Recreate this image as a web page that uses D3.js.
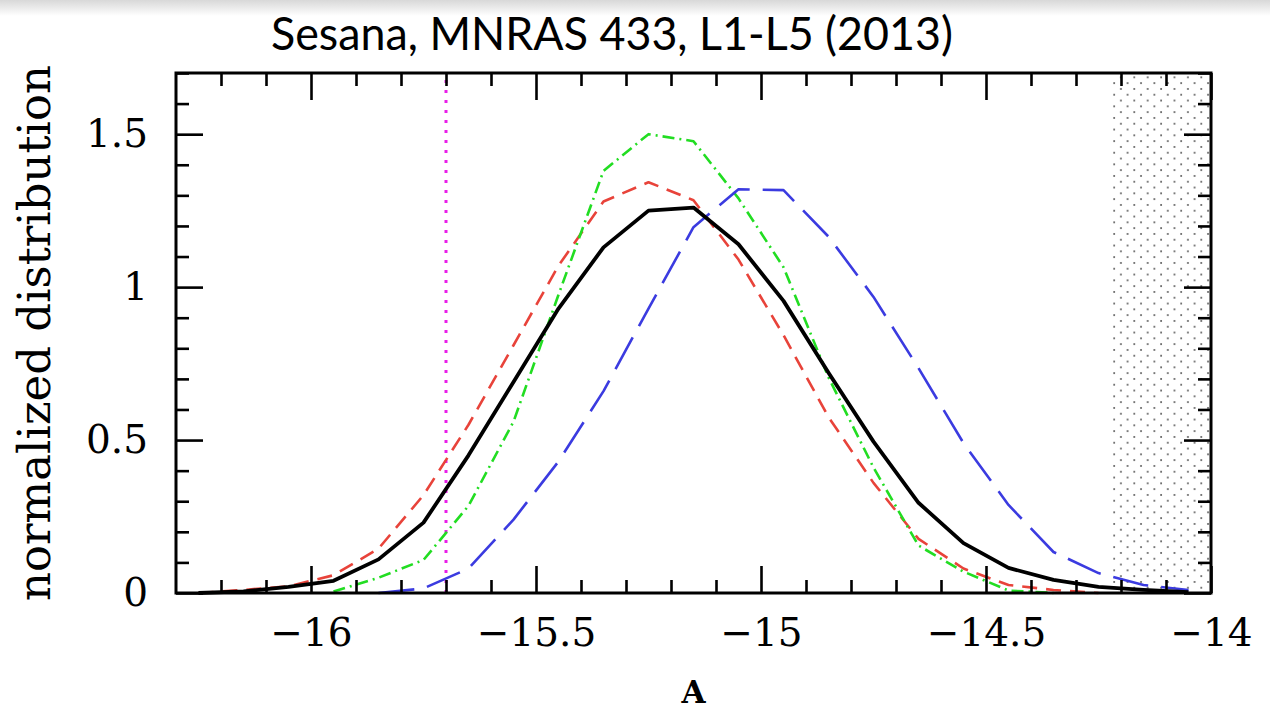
<!DOCTYPE html>
<html>
<head>
<meta charset="utf-8">
<script src="https://cdnjs.cloudflare.com/ajax/libs/d3/7.8.5/d3.min.js"></script>
<style>
  body { margin: 0; background: #fff; }
  svg { display: block; }
</style>
</head>
<body>
<svg id="chart" width="1270" height="713"></svg>
<script>
// bin centres of log amplitude A
const binA = [-16.25, -16.15, -16.05, -15.95, -15.85, -15.75, -15.65, -15.55, -15.45, -15.35, -15.25, -15.15,
              -15.05, -14.95, -14.85, -14.75, -14.65, -14.55, -14.45, -14.35, -14.25, -14.15, -14.05];

// normalized distributions (null = not drawn)
const blackVals = [0, 0.005, 0.02, 0.04, 0.11, 0.23, 0.45, 0.69, 0.93, 1.13, 1.25, 1.26,
                   1.14, 0.955, 0.72, 0.495, 0.295, 0.163, 0.082, 0.043, 0.02, 0.01, 0.003];
const redVals   = [0, 0.01, 0.022, 0.058, 0.145, 0.32, 0.55, 0.81, 1.07, 1.28, 1.343, 1.284,
                   1.09, 0.843, 0.575, 0.36, 0.177, 0.08, 0.026, 0.01, 0, null, null];
const greenVals = [null, null, null, 0.005, 0.05, 0.108, 0.285, 0.56, 0.975, 1.38, 1.50, 1.477,
                   1.29, 1.065, 0.705, 0.41, 0.155, 0.07, 0.008, 0, null, null, null];
const blueVals  = [null, null, null, null, 0, 0.015, 0.08, 0.24, 0.43, 0.66, 0.93, 1.196,
                   1.32, 1.317, 1.165, 0.968, 0.735, 0.49, 0.288, 0.134, 0.065, 0.026, 0.01];

const xMajor = [-16, -15.5, -15, -14.5, -14];
const yMajor = [0, 0.5, 1, 1.5];
const xDomain = [-16.3, -14];
const yDomain = [0, 1.7];
const vLineA = -15.7;      // magenta dotted line
const shadeFromA = -14.22; // excluded (dotted) region

const svg = d3.select("#chart");
const L = 176, R = 1211, T = 73, B = 593;

const x = d3.scaleLinear().domain(xDomain).range([L, R]);
const y = d3.scaleLinear().domain(yDomain).range([B, T]);

// faint textured strip at the very top (slide background)
const defs = svg.append("defs");
const g = defs.append("linearGradient").attr("id", "topfade").attr("x1", 0).attr("x2", 0).attr("y1", 0).attr("y2", 1);
g.append("stop").attr("offset", "0%").attr("stop-color", "#d8d8d8");
g.append("stop").attr("offset", "100%").attr("stop-color", "#ffffff");
svg.append("rect").attr("x", 0).attr("y", 0).attr("width", 1270).attr("height", 16).attr("fill", "url(#topfade)");

// dot pattern for shaded region
const pat = defs.append("pattern").attr("id", "dots").attr("patternUnits", "userSpaceOnUse")
  .attr("width", 13.4).attr("height", 11.6);
pat.append("circle").attr("cx", 2).attr("cy", 2).attr("r", 1).attr("fill", "#555");
pat.append("circle").attr("cx", 8.7).attr("cy", 7.8).attr("r", 1).attr("fill", "#555");

svg.append("rect")
  .attr("x", x(shadeFromA)).attr("y", T)
  .attr("width", x(xDomain[1]) - x(shadeFromA)).attr("height", B - T)
  .attr("fill", "url(#dots)");

// title
svg.append("text")
  .attr("x", 612).attr("y", 50)
  .attr("text-anchor", "middle")
  .attr("font-family", "Lato, 'Open Sans', sans-serif")
  .attr("font-size", 46)
  .attr("textLength", 682).attr("lengthAdjust", "spacingAndGlyphs")
  .text("Sesana, MNRAS 433, L1-L5 (2013)");

// magenta dotted vertical line
svg.append("line")
  .attr("x1", x(vLineA)).attr("x2", x(vLineA))
  .attr("y1", y(0)).attr("y2", y(yDomain[1]))
  .attr("stroke", "#e81ee8").attr("stroke-width", 3)
  .attr("stroke-dasharray", "3,7");

// curves
const series = [
  { vals: redVals,   color: "#e8433a", width: 2.6, dash: "15,9" },
  { vals: greenVals, color: "#22dd22", width: 2.6, dash: "12,5,2,5" },
  { vals: blueVals,  color: "#3b3be0", width: 2.6, dash: "36,13" },
  { vals: blackVals, color: "#000",    width: 3.8, dash: null }
];

const line = d3.line()
  .defined(d => d[1] !== null)
  .x(d => x(d[0]))
  .y(d => y(d[1]));

series.forEach(s => {
  svg.append("path")
    .datum(binA.map((a, i) => [a, s.vals[i]]))
    .attr("d", line)
    .attr("fill", "none")
    .attr("stroke", s.color)
    .attr("stroke-width", s.width)
    .attr("stroke-linejoin", "round")
    .attr("stroke-dasharray", s.dash);
});

// ticks on all four sides
const xMinor = d3.range(-16.2, -14.05, 0.1).map(v => +v.toFixed(1)).filter(v => !xMajor.includes(v));
const yMinor = d3.range(0.1, 1.75, 0.1).map(v => +v.toFixed(1)).filter(v => !yMajor.includes(v));
const fmt = d3.format("");
const serif = "'DejaVu Serif', serif";

function styleAxis(sel) {
  sel.select(".domain").remove();
  sel.selectAll(".tick line").attr("stroke", "#000").attr("stroke-width", 2.6);
  sel.selectAll("text").attr("font-family", serif).attr("font-size", 39).attr("fill", "#000");
}

svg.append("g").attr("transform", `translate(0,${B})`)
  .call(d3.axisBottom(x).tickValues(xMajor).tickSize(-27).tickPadding(25).tickFormat(fmt)).call(styleAxis);
svg.append("g").attr("transform", `translate(0,${B})`)
  .call(d3.axisBottom(x).tickValues(xMinor).tickSize(-13).tickFormat("")).call(styleAxis);
svg.append("g").attr("transform", `translate(0,${T})`)
  .call(d3.axisTop(x).tickValues(xMajor).tickSize(-27).tickFormat("")).call(styleAxis);
svg.append("g").attr("transform", `translate(0,${T})`)
  .call(d3.axisTop(x).tickValues(xMinor).tickSize(-13).tickFormat("")).call(styleAxis);

svg.append("g").attr("transform", `translate(${L},0)`)
  .call(d3.axisLeft(y).tickValues(yMajor).tickSize(-27).tickPadding(28).tickFormat(fmt)).call(styleAxis);
svg.append("g").attr("transform", `translate(${L},0)`)
  .call(d3.axisLeft(y).tickValues(yMinor).tickSize(-13).tickFormat("")).call(styleAxis);
svg.append("g").attr("transform", `translate(${R},0)`)
  .call(d3.axisRight(y).tickValues(yMajor).tickSize(-27).tickFormat("")).call(styleAxis);
svg.append("g").attr("transform", `translate(${R},0)`)
  .call(d3.axisRight(y).tickValues(yMinor).tickSize(-13).tickFormat("")).call(styleAxis);

// frame
svg.append("rect")
  .attr("x", L).attr("y", T).attr("width", R - L).attr("height", B - T)
  .attr("fill", "none").attr("stroke", "#000").attr("stroke-width", 3);

// axis titles
svg.append("text")
  .attr("transform", `translate(50,${(T + B) / 2}) rotate(-90)`)
  .attr("text-anchor", "middle")
  .attr("font-family", serif).attr("font-size", 45)
  .text("normalized distribution");

svg.append("text")
  .attr("x", (L + R) / 2).attr("y", 703)
  .attr("text-anchor", "middle")
  .attr("font-family", serif).attr("font-weight", "bold").attr("font-size", 31)
  .text("A");
</script>
</body>
</html>
